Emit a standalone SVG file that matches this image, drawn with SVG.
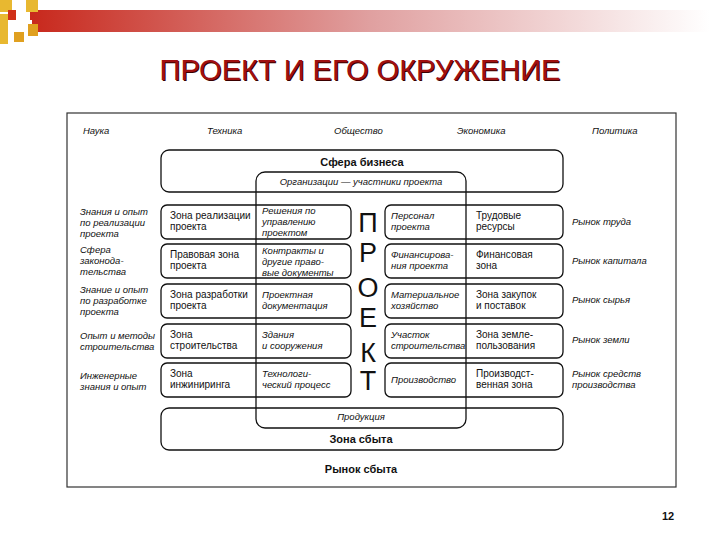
<svg xmlns="http://www.w3.org/2000/svg" width="720" height="540" viewBox="0 0 720 540">
<defs>
<linearGradient id="bar" x1="0" x2="1" y1="0" y2="0">
<stop offset="0" stop-color="#c8281c"/><stop offset="0.5" stop-color="#e0a0a0"/><stop offset="1" stop-color="#ffffff"/>
</linearGradient>
<style>
text{font-family:"Liberation Sans",Arial,sans-serif;fill:#111}
.i{font-style:italic;font-size:9.5px}
.n{font-size:10px}
.b{font-weight:bold;font-size:11px}
.box{fill:none;stroke:#111;stroke-width:1.3}
.big{font-size:27px;text-anchor:middle}
</style>
</defs>
<rect width="720" height="540" fill="#fff"/>
<rect x="30" y="10" width="680" height="22" fill="url(#bar)"/>
<rect x="0" y="0" width="12" height="12" fill="#e8b830"/>
<rect x="26" y="0" width="12" height="12" fill="#e8b830"/>
<rect x="8" y="10" width="8" height="10" fill="#d03018"/>
<rect x="0" y="14" width="8" height="30" fill="#e8b830"/>
<rect x="16" y="20" width="16" height="12" fill="#fff"/>
<rect x="14" y="32" width="10" height="10" fill="#e0a020"/>
<rect x="28" y="24" width="10" height="12" fill="#e0a020"/>
<g id="title">
<text x="361" y="81" text-anchor="middle" font-size="29" style="fill:#3a0000">ПРОЕКТ И ЕГО ОКРУЖЕНИЕ</text>
<text x="360" y="80" text-anchor="middle" font-size="29" style="fill:#a01010">ПРОЕКТ И ЕГО ОКРУЖЕНИЕ</text>
</g>
<rect x="67" y="113" width="609" height="374" fill="none" stroke="#333" stroke-width="1.2"/>
<g id="top-labels">
<text class="i" x="83" y="134">Наука</text>
<text class="i" x="207" y="134">Техника</text>
<text class="i" x="334" y="134">Общество</text>
<text class="i" x="457" y="134">Экономика</text>
<text class="i" x="592" y="134">Политика</text>
</g>
<g id="business"><rect class="box" x="161" y="150" width="402" height="42" rx="8"/>
<text class="b" x="362" y="166" text-anchor="middle">Сфера бизнеса</text></g>
<g id="project"><rect class="box" x="256" y="172" width="210" height="256" rx="9"/>
<text class="i" x="361" y="185" text-anchor="middle">Организации — участники проекта</text>
<text class="i" x="361" y="420" text-anchor="middle">Продукция</text>
<text class="big" x="368" y="232">П</text><text class="big" x="368" y="262">Р</text>
<text class="big" x="368" y="297">О</text><text class="big" x="368" y="327">Е</text>
<text class="big" x="368" y="362">К</text><text class="big" x="368" y="390">Т</text>
</g>
<g id="sales"><rect class="box" x="161" y="408" width="402" height="42" rx="8"/>
<text class="b" x="361" y="443" text-anchor="middle">Зона сбыта</text></g>
<text class="b" x="361" y="473" text-anchor="middle">Рынок сбыта</text>
<g id="rows">
<rect class="box" x="161" y="205" width="190" height="34" rx="6"/><rect class="box" x="385" y="205" width="178" height="34" rx="6"/>
<rect class="box" x="161" y="244" width="190" height="34" rx="6"/><rect class="box" x="385" y="244" width="178" height="34" rx="6"/>
<rect class="box" x="161" y="284" width="190" height="34" rx="6"/><rect class="box" x="385" y="284" width="178" height="34" rx="6"/>
<rect class="box" x="161" y="324" width="190" height="34" rx="6"/><rect class="box" x="385" y="324" width="178" height="34" rx="6"/>
<rect class="box" x="161" y="363" width="190" height="34" rx="6"/><rect class="box" x="385" y="363" width="178" height="34" rx="6"/>
</g>
<g id="left-labels">
<text class="i" x="80" y="215">Знания и опыт</text><text class="i" x="80" y="226">по реализации</text><text class="i" x="80" y="237">проекта</text>
<text class="i" x="80" y="253">Сфера</text><text class="i" x="80" y="264">законода-</text><text class="i" x="80" y="275">тельства</text>
<text class="i" x="80" y="293">Знание и опыт</text><text class="i" x="80" y="304">по разработке</text><text class="i" x="80" y="315">проекта</text>
<text class="i" x="80" y="339">Опыт и методы</text><text class="i" x="80" y="350">строительства</text>
<text class="i" x="80" y="379">Инженерные</text><text class="i" x="80" y="390">знания и опыт</text>
</g>
<g id="cells">
<text class="n" x="170" y="219">Зона реализации</text><text class="n" x="170" y="230">проекта</text>
<text class="i" x="262" y="214">Решения по</text><text class="i" x="262" y="225">управлению</text><text class="i" x="262" y="236">проектом</text>
<text class="n" x="170" y="258">Правовая зона</text><text class="n" x="170" y="269">проекта</text>
<text class="i" x="262" y="254">Контракты и</text><text class="i" x="262" y="265">другие право-</text><text class="i" x="262" y="276">вые документы</text>
<text class="n" x="170" y="298">Зона разработки</text><text class="n" x="170" y="309">проекта</text>
<text class="i" x="262" y="298">Проектная</text><text class="i" x="262" y="309">документация</text>
<text class="n" x="170" y="338">Зона</text><text class="n" x="170" y="349">строительства</text>
<text class="i" x="262" y="338">Здания</text><text class="i" x="262" y="349">и сооружения</text>
<text class="n" x="170" y="377">Зона</text><text class="n" x="170" y="388">инжиниринга</text>
<text class="i" x="262" y="377">Технологи-</text><text class="i" x="262" y="388">ческий процесс</text>
<text class="i" x="391" y="219">Персонал</text><text class="i" x="391" y="230">проекта</text>
<text class="n" x="476" y="219">Трудовые</text><text class="n" x="476" y="230">ресурсы</text>
<text class="i" x="391" y="258">Финансирова-</text><text class="i" x="391" y="269">ния проекта</text>
<text class="n" x="476" y="258">Финансовая</text><text class="n" x="476" y="269">зона</text>
<text class="i" x="391" y="298">Материальное</text><text class="i" x="391" y="309">хозяйство</text>
<text class="n" x="476" y="298">Зона закупок</text><text class="n" x="476" y="309">и поставок</text>
<text class="i" x="391" y="338">Участок</text><text class="i" x="391" y="349">строительства</text>
<text class="n" x="476" y="338">Зона земле-</text><text class="n" x="476" y="349">пользования</text>
<text class="i" x="391" y="383">Производство</text>
<text class="n" x="476" y="377">Производст-</text><text class="n" x="476" y="388">венная зона</text>
</g>
<g id="right-labels">
<text class="i" x="572" y="225">Рынок труда</text>
<text class="i" x="572" y="264">Рынок капитала</text>
<text class="i" x="572" y="303">Рынок сырья</text>
<text class="i" x="572" y="343">Рынок земли</text>
<text class="i" x="572" y="377">Рынок средств</text><text class="i" x="572" y="388">производства</text>
</g>
<text x="668" y="520" font-size="11" font-weight="bold" text-anchor="middle">12</text>
</svg>
